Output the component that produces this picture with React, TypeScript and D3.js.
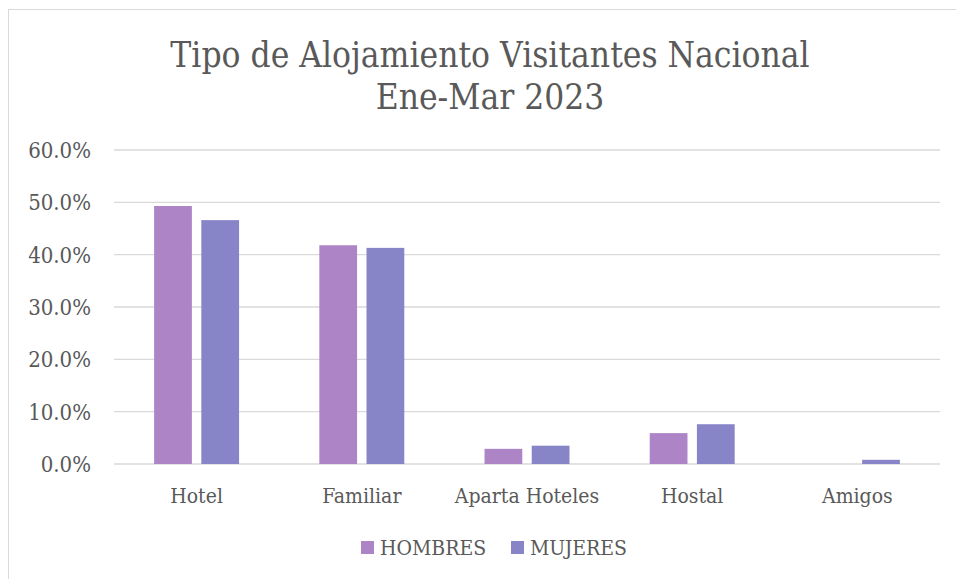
import React from 'react';
import * as d3 from 'd3';

const categories = ['Hotel', 'Familiar', 'Aparta Hoteles', 'Hostal', 'Amigos'];
const seriesNames = ['HOMBRES', 'MUJERES'];
const hombres = [0.493, 0.418, 0.029, 0.059, 0.0];
const mujeres = [0.466, 0.413, 0.035, 0.076, 0.008];
const yTicks = [0, 0.1, 0.2, 0.3, 0.4, 0.5, 0.6];

const colors = ['#ad84c6', '#8784c7'];
const textColor = '#595959';
const font = '"DejaVu Serif Condensed", "DejaVu Serif", serif';

const W = 956;
const H = 579;

const App = () => {
    const values = [hombres, mujeres];

    const x0 = d3.scaleBand<string>()
        .domain(categories)
        .range([114, 940]);

    const x1 = d3.scaleBand<string>()
        .domain(seriesNames)
        .range([0, x0.bandwidth()])
        .paddingInner(0.2)
        .paddingOuter(0.85);

    const y = d3.scaleLinear()
        .domain([0, 0.6])
        .range([464, 150]);

    const fmt = d3.format('.1%');

    // legend layout
    const legendItems = [
        { name: seriesNames[0], x: 361 },
        { name: seriesNames[1], x: 511 },
    ];

    return (
        <svg width={W} height={H} style={{ position: 'absolute', left: 0, top: 0, background: '#fff' }}
            fontFamily={font}>
            <rect x={8.5} y={9.5} width={W + 10} height={H + 10} fill="#fff" stroke="#d9d9d9" strokeWidth={1} />

            <text x={490} y={67} textAnchor="middle" fontSize={35} fill={textColor}>
                Tipo de Alojamiento Visitantes Nacional
            </text>
            <text x={490} y={109} textAnchor="middle" fontSize={35} fill={textColor}>
                Ene-Mar 2023
            </text>

            {yTicks.map(t => (
                <g key={t}>
                    <line x1={114} x2={940} y1={y(t)} y2={y(t)} stroke="#d9d9d9" strokeWidth={1.3} />
                    <text x={91} y={y(t)} dy="0.36em" textAnchor="end" fontSize={22} fill={textColor}>
                        {fmt(t)}
                    </text>
                </g>
            ))}

            {categories.map((c, i) => (
                <g key={c} transform={`translate(${x0(c)},0)`}>
                    {seriesNames.map((s, j) => (
                        values[j][i] > 0 ? (
                            <rect key={s}
                                x={x1(s)}
                                y={y(values[j][i])}
                                width={x1.bandwidth()}
                                height={y(0) - y(values[j][i])}
                                fill={colors[j]} />
                        ) : null
                    ))}
                    <text x={x0.bandwidth() / 2} y={503} textAnchor="middle" fontSize={21} fill={textColor}>
                        {c}
                    </text>
                </g>
            ))}

            {legendItems.map((d, j) => (
                <g key={d.name} transform={`translate(${d.x},0)`}>
                    <rect x={0} y={541} width={13} height={13} fill={colors[j]} />
                    <text x={19} y={555} fontSize={21} fill={textColor}>{d.name}</text>
                </g>
            ))}
        </svg>
    );
};

export default App;
